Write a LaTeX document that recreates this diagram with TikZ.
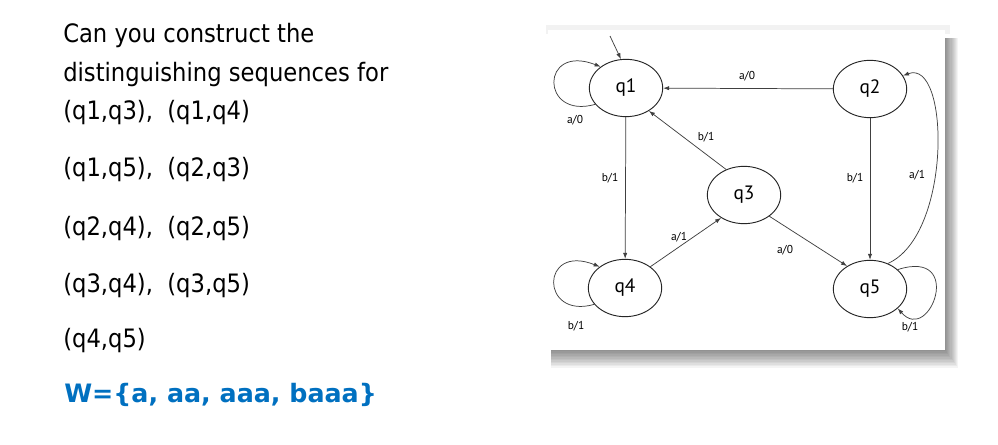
\documentclass[tikz,border=0pt]{standalone}
\usepackage{fontspec}
\setmainfont[FakeStretch=0.895]{DejaVu Sans}
\newfontfamily\wfont{DejaVu Sans}
\newfontfamily\diagfont{PT Sans}
\usetikzlibrary{arrows.meta,shapes.geometric}
\definecolor{wblue}{HTML}{0070C0}
\tikzset{
  txt/.style={anchor=base west,inner sep=0pt,font=\fontsize{19}{22}\selectfont},
  state/.style={draw=black!85,ellipse,line width=0.7pt,minimum width=55pt,minimum height=43pt,inner sep=0pt,font=\diagfont\fontsize{14.5}{16}\selectfont},
  lbl/.style={inner sep=0pt,font=\diagfont\fontsize{8.6}{10}\selectfont},
  edge/.style={draw=black!75,line width=0.55pt,-{Latex[length=4.5pt,width=3.2pt]}},
}
\begin{document}
\begin{tikzpicture}[x=0.75pt,y=-0.75pt]
\useasboundingbox (0,0) rectangle (998,445);
\fill[white] (0,0) rectangle (998,445);
% left text
\node[txt] (t1) at (63,43) {Can you construct the};
\node[txt] (t2) at (63,82) {distinguishing sequences for};
\node[txt] (t3) at (63,120) {(q1,q3),\ \ (q1,q4)};
\node[txt] (t4) at (63,177) {(q1,q5),\ \ (q2,q3)};
\node[txt] (t5) at (63,235) {(q2,q4),\ \ (q2,q5)};
\node[txt] (t6) at (63,292) {(q3,q4),\ \ (q3,q5)};
\node[txt] (t7) at (63,347) {(q4,q5)};
\node[txt,text=wblue,font=\wfont\bfseries\fontsize{19}{22}\selectfont] (t8) at (64,402) {W=\{a, aa, aaa, baaa\}};
% panel shadow
\fill[black!5] (546,25) rectangle (950,34);
\foreach \k in {0,...,11} {
  \fill[black,opacity=0.045] (551,38) rectangle (946+1.1*\k,351+1.5*\k);
}
\fill[white] (548,30) rectangle (945,350);
% states
\node[state] (q1) at (626,88) {q1};
\node[state] (q2) at (870,89) {q2};
\node[state] (q3) at (744,195) {q3};
\node[state] (q4) at (625,288) {q4};
\node[state] (q5) at (870,289) {q5};
\coordinate (init) at (610,36);
% edges
\draw[edge] (init) -- (q1.100);
\draw[edge] (q1.208) .. controls (540,120) and (540,43) .. (q1.140);
\draw[edge] (q2) -- (q1);
\draw[edge] (q3.125) -- (q1.-45);
\draw[edge] (q1) -- (q4);
\draw[edge] (q4.40) -- (q3.-135);
\draw[edge] (q3.-40) -- (q5.135);
\draw[edge] (q2) -- (q5);
\draw[edge] (q5.55) .. controls (952,235) and (950,58) .. (q2.22);
\draw[edge] (q4.208) .. controls (540,320) and (540,243) .. (q4.140);
\draw[edge] (q5.35) .. controls (965,248) and (930,345) .. (q5.-35);
% labels
\node[lbl] (l1) at (575,120) {a/0};
\node[lbl] (l2) at (747,76) {a/0};
\node[lbl] (l3) at (706,137) {b/1};
\node[lbl] (l4) at (610,178) {b/1};
\node[lbl] (l5) at (855,178) {b/1};
\node[lbl] (l6) at (917,175) {a/1};
\node[lbl] (l7) at (679,237) {a/1};
\node[lbl] (l8) at (785,250) {a/0};
\node[lbl] (l9) at (576,326) {b/1};
\node[lbl] (l10) at (910,327) {b/1};
\end{tikzpicture}
\end{document}
